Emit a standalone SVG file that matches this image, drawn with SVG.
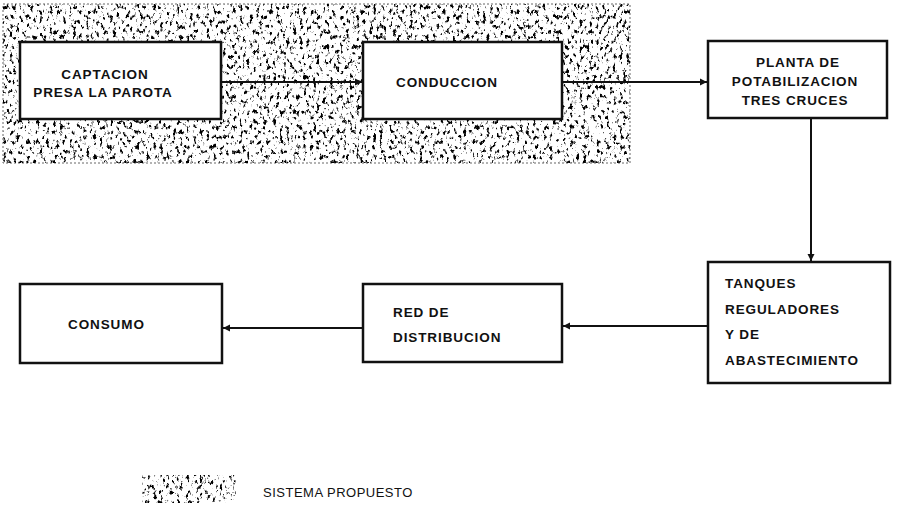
<svg xmlns="http://www.w3.org/2000/svg" width="901" height="507" viewBox="0 0 901 507">
<style>
.box{fill:#fff;stroke:#111;stroke-width:2.5}
.lbl{font-family:"Liberation Sans",Arial,sans-serif;font-size:13.5px;font-weight:bold;fill:#111;letter-spacing:0.9px}
.leg{font-family:"Liberation Sans",Arial,sans-serif;font-size:13px;fill:#111;letter-spacing:0.5px}
.con{stroke:#111;stroke-width:2;fill:none;marker-end:url(#ah)}
</style>
<defs>
<marker id="ah" markerWidth="8" markerHeight="8" refX="7" refY="4" orient="auto" markerUnits="userSpaceOnUse">
<path d="M0,0.5 L7,4 L0,7.5 Z" fill="#111"/>
</marker>
<filter id="speckle" x="0" y="0" width="100%" height="100%" filterUnits="objectBoundingBox">
<feTurbulence type="fractalNoise" baseFrequency="0.3 0.2" numOctaves="4" seed="5" result="n"/>
<feColorMatrix in="n" type="matrix" values="0 0 0 0 0  0 0 0 0 0  0 0 0 0 0  -7 0 0 0 3.05"/>
</filter>
</defs>
<rect width="901" height="507" fill="#fff"/>
<g id="sistema-propuesto-zona">
<rect x="3" y="4" width="627" height="159" fill="#fff" stroke="#666" stroke-width="1" stroke-dasharray="2 2"/>
<rect x="3" y="4" width="627" height="159" fill="#000" filter="url(#speckle)"/>
</g>
<g id="connectors">
<line class="con" x1="221" y1="82" x2="362" y2="82"/>
<line class="con" x1="562" y1="82" x2="707" y2="82"/>
<line class="con" x1="811" y1="118" x2="811" y2="261"/>
<line class="con" x1="708" y1="326" x2="563" y2="326"/>
<line class="con" x1="363" y1="328" x2="223" y2="328"/>
</g>
<g id="captacion">
<rect class="box" x="20" y="42" width="201" height="77"/>
<text class="lbl" x="105" y="79" text-anchor="middle">CAPTACION</text>
<text class="lbl" x="103" y="97" text-anchor="middle">PRESA LA PAROTA</text>
</g>
<g id="conduccion">
<rect class="box" x="363" y="42" width="199" height="77"/>
<text class="lbl" x="396" y="87">CONDUCCION</text>
</g>
<g id="planta">
<rect class="box" x="708" y="41" width="179" height="77"/>
<text class="lbl" x="798" y="67" text-anchor="middle">PLANTA DE</text>
<text class="lbl" x="795" y="86" text-anchor="middle">POTABILIZACION</text>
<text class="lbl" x="795" y="105" text-anchor="middle">TRES CRUCES</text>
</g>
<g id="tanques">
<rect class="box" x="708" y="262" width="182" height="121"/>
<text class="lbl" x="725" y="288">TANQUES</text>
<text class="lbl" x="725" y="314">REGULADORES</text>
<text class="lbl" x="725" y="339">Y DE</text>
<text class="lbl" x="725" y="365">ABASTECIMIENTO</text>
</g>
<g id="red">
<rect class="box" x="363" y="284" width="199" height="78"/>
<text class="lbl" x="393" y="317">RED DE</text>
<text class="lbl" x="393" y="342">DISTRIBUCION</text>
</g>
<g id="consumo">
<rect class="box" x="20" y="284" width="202" height="79"/>
<text class="lbl" x="68" y="329">CONSUMO</text>
</g>
<g id="leyenda">
<rect x="142" y="475" width="94" height="28" fill="#000" filter="url(#speckle)"/>
<text class="leg" x="263" y="497">SISTEMA PROPUESTO</text>
</g>
</svg>
